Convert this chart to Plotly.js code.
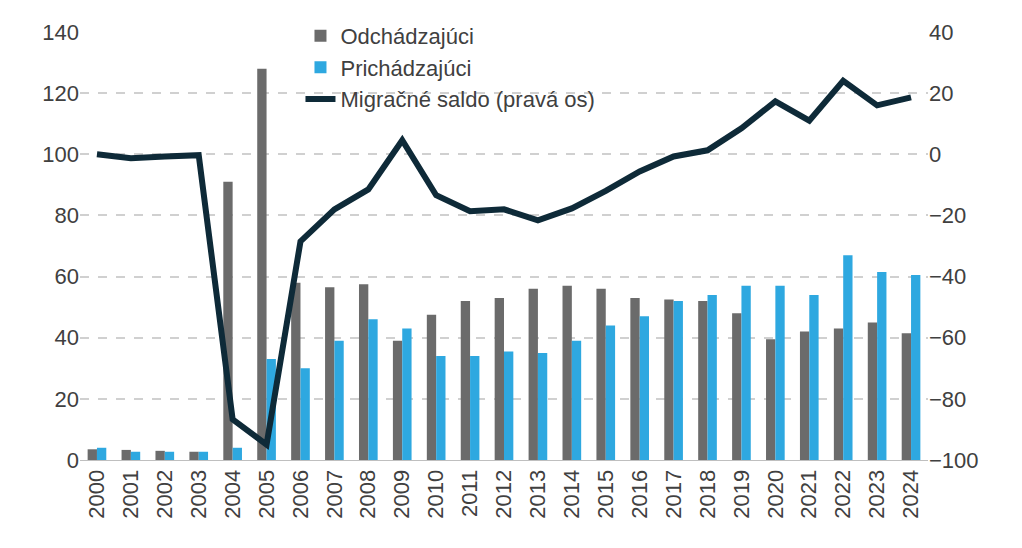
<!DOCTYPE html>
<html><head><meta charset="utf-8">
<script src="https://cdn.plot.ly/plotly-3.0.1.min.js"></script>
<style>body{margin:0}</style></head><body>
<div id="c" style="width:1022px;height:548px"></div>
<script>
const years=['2000','2001','2002','2003','2004','2005','2006','2007','2008','2009','2010','2011','2012','2013','2014','2015','2016','2017','2018','2019','2020','2021','2022','2023','2024'];
const odchadzajuci=[3.5,3.3,3,2.7,91,128,58,56.5,57.5,39,47.5,52,53,56,57,56,53,52.5,52,48,39.5,42,43,45,41.5];
const prichadzajuci=[4,2.7,2.7,2.7,4,33,30,39,46,43,34,34,35.5,35,39,44,47,52,54,57,57,54,67,61.5,60.5];
const saldo=[0,-1.3,-0.7,-0.3,-86.7,-95,-28.5,-18,-11.5,4.6,-13.4,-18.6,-18,-21.6,-17.7,-12,-5.6,-0.7,1.3,8.5,17.3,11,24,16,18.6];
const f={family:'Liberation Sans, Arial',size:22,color:'#404040'};
Plotly.newPlot('c',[
{type:'bar',x:years,y:odchadzajuci,name:'Odchádzajúci',marker:{color:'#6b6b6b'}},
{type:'bar',x:years,y:prichadzajuci,name:'Prichádzajúci',marker:{color:'#2ea8e0'}},
{type:'scatter',mode:'lines',x:years,y:saldo,yaxis:'y2',name:'Migračné saldo (pravá os)',line:{color:'#0e2a38',width:6}}
],{
width:1022,height:548,margin:{l:80,r:94,t:32,b:88},
paper_bgcolor:'#fff',plot_bgcolor:'#fff',font:f,
barmode:'group',bargap:0.45,bargroupgap:0,
xaxis:{type:'category',tickangle:-90,showline:true,linecolor:'#bfbfbf',tickfont:f,ticks:''},
yaxis:{range:[0,140],dtick:20,gridcolor:'#d0d0d0',griddash:'dash',gridwidth:2,zeroline:false,tickfont:f},
yaxis2:{overlaying:'y',side:'right',range:[-100,40],dtick:20,showgrid:false,zeroline:false,tickfont:f},
legend:{x:0.26,y:1.04,xanchor:'left',yanchor:'top',bgcolor:'rgba(0,0,0,0)',font:{family:'Liberation Sans, Arial',size:22,color:'#404040'},tracegroupgap:0},
showlegend:true
},{displayModeBar:false});
</script></body></html>
